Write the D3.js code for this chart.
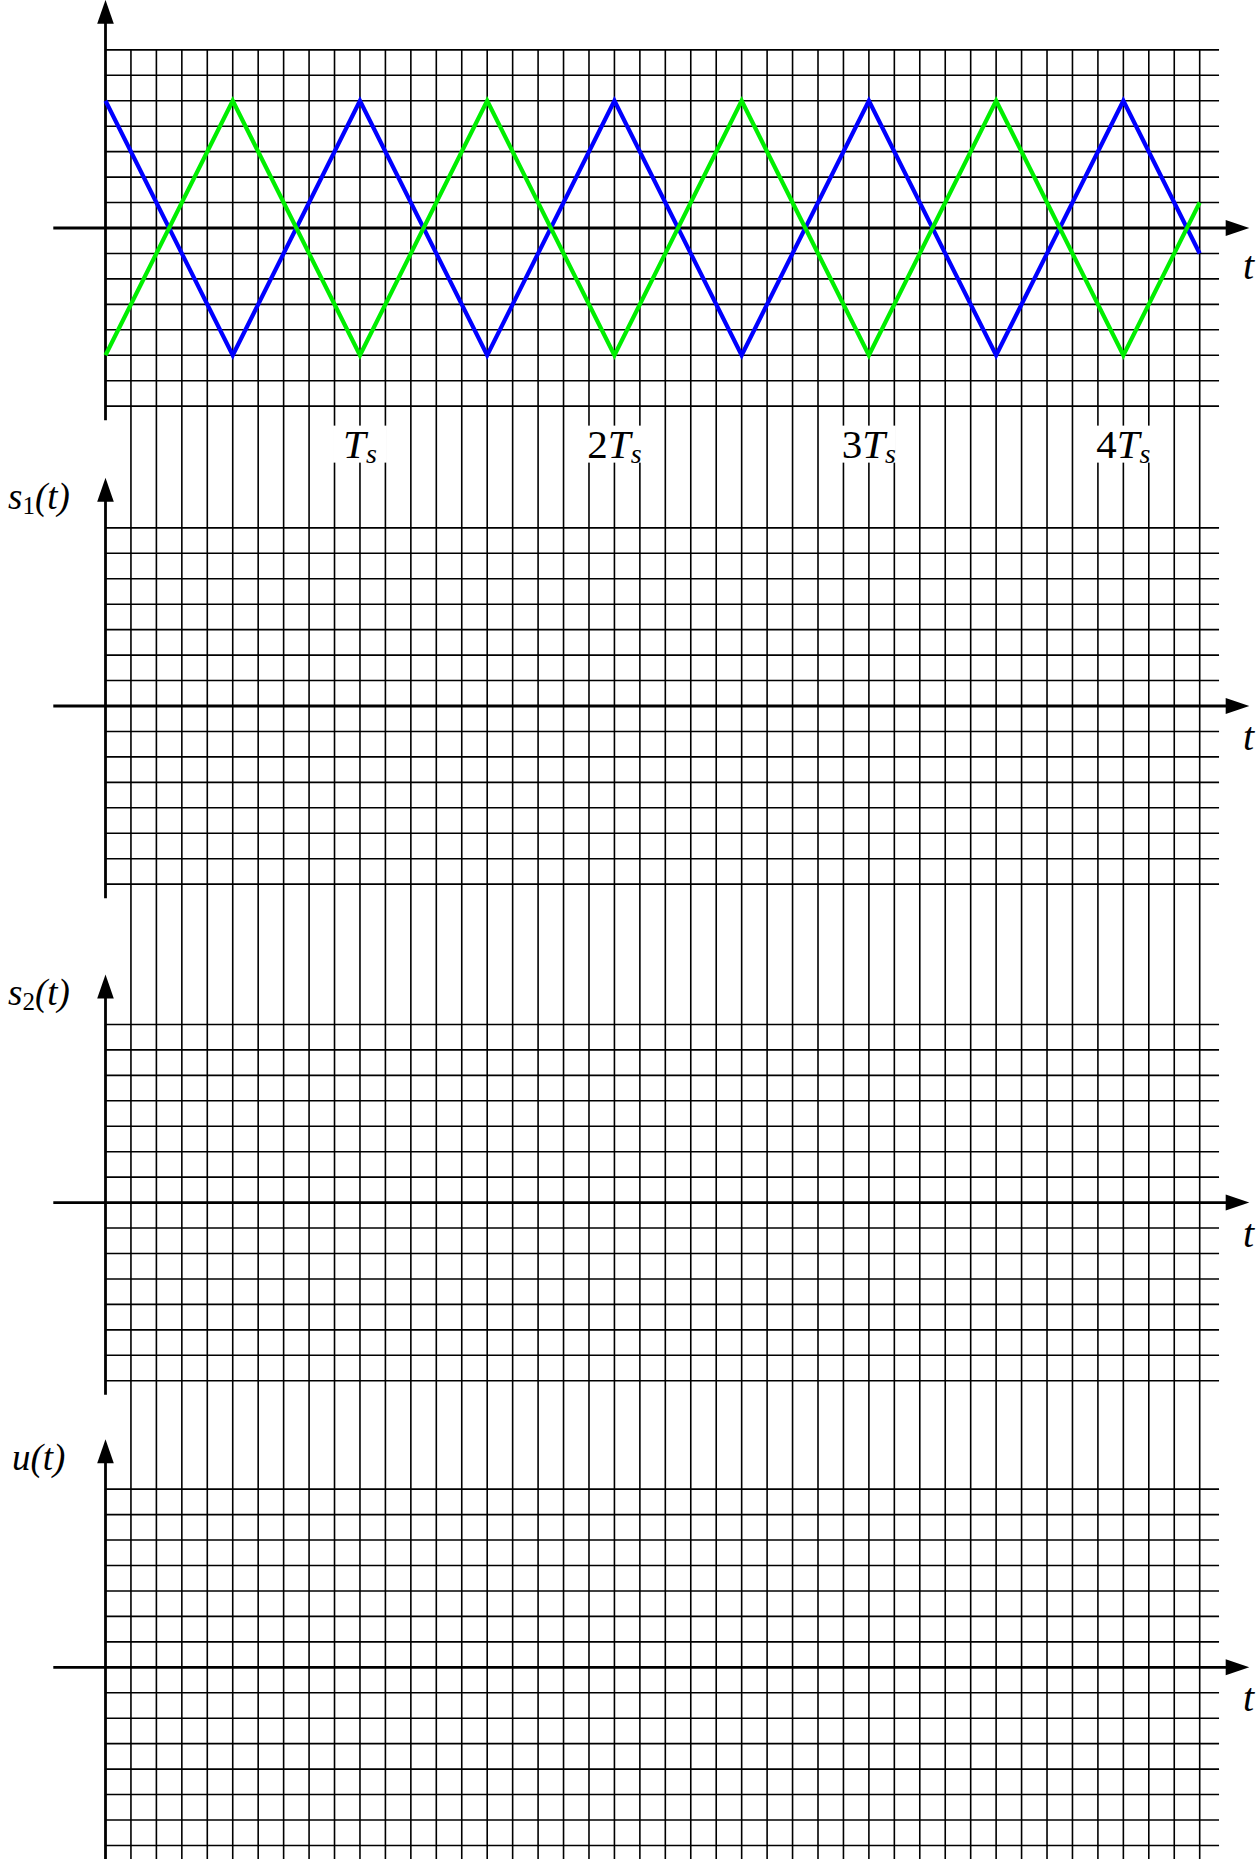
<!DOCTYPE html>
<html>
<head>
<meta charset="utf-8">
<script src="https://cdn.jsdelivr.net/npm/d3@7"></script>
<style>
  html, body { margin: 0; padding: 0; background: #fff; }
  svg { display: block; }
</style>
</head>
<body>
<svg id="chart" width="1260" height="1859"></svg>
<script>
// time in units of Ts, carrier values normalised to the peak
const carrierT = [0, 0.5, 1, 1.5, 2, 2.5, 3, 3.5, 4, 4.3];
const carrierBlue = [1, -1, 1, -1, 1, -1, 1, -1, 1, -0.2];
const carrierGreen = [-1, 1, -1, 1, -1, 1, -1, 1, -1, 0.2];
const periodMarks = [1, 2, 3, 4];
const panelNames = ['', 's1', 's2', 'u'];
const panelAxisY = [228, 706, 1202.6, 1667.3];

const svg = d3.select('#chart');
const width = +svg.attr('width');
const height = +svg.attr('height');
const serif = '"Liberation Serif", "DejaVu Serif", serif';

const x = d3.scaleLinear().domain([0, 4.3]).range([105.5, 1199.7]);
const cell = x(0.1) - x(0);
const gridRight = x(4.3) + 0.76 * cell;

const panels = panelAxisY.map((ay, i) => ({
  name: panelNames[i],
  axisY: ay,
  y: d3.scaleLinear().domain([-1.4, 1.4]).range([ay + 7 * cell, ay - 7 * cell])
}));

// vertical grid, runs through all panels
const gridTimes = d3.range(1, 44).map((k) => k / 10);
svg.append('g')
  .selectAll('line')
  .data(gridTimes)
  .enter()
  .append('line')
  .attr('x1', (d) => x(d))
  .attr('x2', (d) => x(d))
  .attr('y1', panels[0].y(1.4))
  .attr('y2', height)
  .attr('stroke', '#000')
  .attr('stroke-width', 1.6);

// horizontal grid per panel
const levels = d3.range(-7, 8).filter((k) => k !== 0).map((k) => k / 5);
panels.forEach((p) => {
  svg.append('g')
    .selectAll('line')
    .data(levels)
    .enter()
    .append('line')
    .attr('x1', x(0))
    .attr('x2', gridRight)
    .attr('y1', (d) => p.y(d))
    .attr('y2', (d) => p.y(d))
    .attr('stroke', '#000')
    .attr('stroke-width', 1.6);
});

//Period labels under the first panel
const labelY = panels[0].y(-1.4) + 19.5;
const marks = svg.append('g');
periodMarks.forEach((m) => {
  marks.append('rect')
    .attr('x', x(m - 0.1) - 1.5)
    .attr('y', labelY)
    .attr('width', x(m + 0.1) - x(m - 0.1) + 3)
    .attr('height', 37)
    .attr('fill', '#fff');
  const t = marks.append('text')
    .attr('x', x(m))
    .attr('y', labelY + 32)
    .attr('text-anchor', 'middle')
    .attr('font-family', serif)
    .attr('font-size', 41);
  if (m > 1) t.append('tspan').text(m);
  t.append('tspan').attr('font-style', 'italic').text('T');
  t.append('tspan').attr('font-style', 'italic').attr('font-size', 28).attr('dy', 5).text('s');
});

// axes
panels.forEach((p, i) => {
  const g = svg.append('g');
  const top = p.y(1.4);
  const tip = top - 50;
  const bottom = i === panels.length - 1 ? height : p.y(-1.4) + 14;

  g.append('line')
    .attr('x1', x(0)).attr('x2', x(0))
    .attr('y1', tip + 20).attr('y2', bottom)
    .attr('stroke', '#000').attr('stroke-width', 2.8);
  g.append('path')
    .attr('d', `M${x(0)},${tip} L${x(0) - 8.3},${tip + 24} L${x(0) + 8.3},${tip + 24} Z`)
    .attr('fill', '#000');

  g.append('line')
    .attr('x1', 53.3).attr('x2', 1230)
    .attr('y1', p.axisY).attr('y2', p.axisY)
    .attr('stroke', '#000').attr('stroke-width', 2.8);
  g.append('path')
    .attr('d', `M1249.3,${p.axisY} L1225.7,${p.axisY - 8} L1225.7,${p.axisY + 8} Z`)
    .attr('fill', '#000');

  g.append('text')
    .attr('x', 1243)
    .attr('y', p.axisY + (i === 0 ? 51 : 44))
    .attr('font-family', serif)
    .attr('font-style', 'italic')
    .attr('font-size', 40)
    .text('t');

  if (p.name) {
    const lab = g.append('text')
      .attr('x', p.name === 'u' ? 12 : 8)
      .attr('y', tip + 31)
      .attr('font-family', serif)
      .attr('font-size', 37);
    lab.append('tspan').attr('font-style', 'italic').text(p.name[0]);
    if (p.name.length > 1) {
      lab.append('tspan').attr('font-size', 25).attr('dy', 5).text(p.name.slice(1));
      lab.append('tspan').attr('font-style', 'italic').attr('dy', -5).text('(t)');
    } else {
      lab.append('tspan').attr('font-style', 'italic').text('(t)');
    }
  }
});

// carriers in the first panel
const y0 = panels[0].y;
const line = d3.line()
  .x((d) => x(d[0]))
  .y((d) => y0(d[1]));

[[carrierBlue, '#0000ff'], [carrierGreen, '#00ee00']].forEach(([vals, colour]) => {
  svg.append('path')
    .datum(carrierT.map((t, i) => [t, vals[i]]))
    .attr('fill', 'none')
    .attr('stroke', colour)
    .attr('stroke-width', 4.2)
    .attr('stroke-linejoin', 'miter')
    .attr('d', line);
});
</script>
</body>
</html>
